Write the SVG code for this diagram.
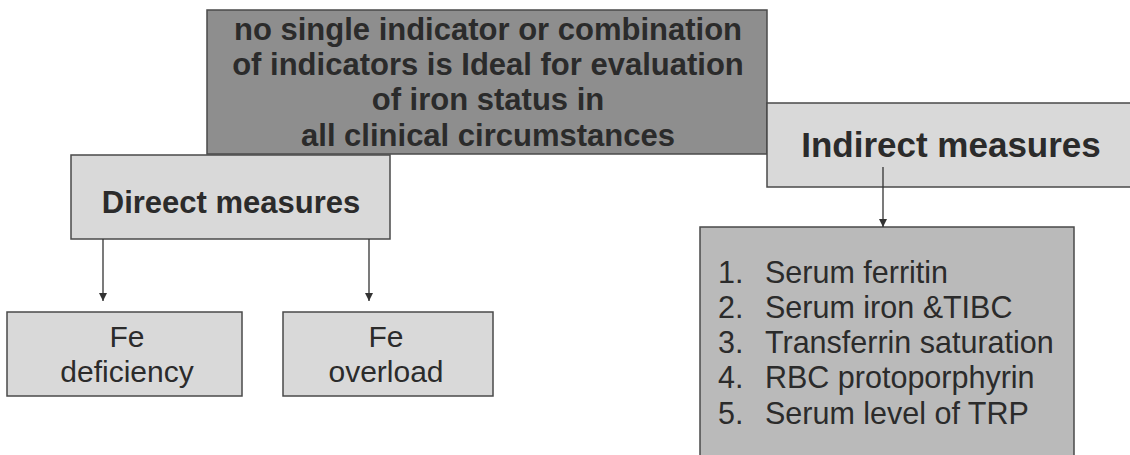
<svg xmlns="http://www.w3.org/2000/svg" width="1130" height="455" viewBox="0 0 1130 455">
<style>
.box{stroke:#4a4a4a;stroke-width:1.5}
.dark{fill:#8e8e8e}
.light{fill:#d9d9d9}
.mid{fill:#bababa}
text{font-family:"Liberation Sans",Arial,sans-serif;fill:#2b2b2b}
.b{font-weight:bold}
.c{text-anchor:middle}
.conn{stroke:#333;stroke-width:1.3;fill:none}
</style>
<defs>
<marker id="ah" viewBox="0 0 10 10" refX="10" refY="5" markerWidth="8" markerHeight="8" markerUnits="userSpaceOnUse" orient="auto">
<path d="M0,0 L10,5 L0,10 z" fill="#333"/>
</marker>
</defs>
<rect width="1130" height="455" fill="#ffffff"/>
<g id="top">
<rect class="box dark" x="207" y="10" width="560" height="144"/>
<text class="b c" x="488" y="40" font-size="31">no single indicator or combination</text>
<text class="b c" x="488" y="75" font-size="31">of indicators is Ideal for evaluation</text>
<text class="b c" x="488" y="110" font-size="31">of iron status in</text>
<text class="b c" x="488" y="146" font-size="31">all clinical circumstances</text>
</g>
<g id="direct">
<rect class="box light" x="71" y="155" width="319" height="84"/>
<text class="b c" x="231" y="213" font-size="31">Direect measures</text>
</g>
<g id="indirect">
<rect class="box light" x="767" y="103" width="370" height="84"/>
<text class="b c" x="951" y="157" font-size="35">Indirect measures</text>
</g>
<g id="deficiency">
<rect class="box light" x="7" y="312" width="235" height="84"/>
<text class="c" x="127" y="347" font-size="30">Fe</text>
<text class="c" x="127" y="382" font-size="30">deficiency</text>
</g>
<g id="overload">
<rect class="box light" x="283" y="312" width="210" height="84"/>
<text class="c" x="386" y="347" font-size="30">Fe</text>
<text class="c" x="386" y="382" font-size="30">overload</text>
</g>
<g id="list">
<rect class="box mid" x="700" y="227" width="374" height="240"/>
<g font-size="30.5">
<text x="718" y="283">1.</text><text x="765" y="283">Serum ferritin</text>
<text x="718" y="318">2.</text><text x="765" y="318">Serum iron &amp;TIBC</text>
<text x="718" y="353">3.</text><text x="765" y="353">Transferrin saturation</text>
<text x="718" y="388">4.</text><text x="765" y="388">RBC protoporphyrin</text>
<text x="718" y="424">5.</text><text x="765" y="424">Serum level of TRP</text>
</g>
</g>
<g id="connectors">
<line class="conn" x1="103" y1="239" x2="103" y2="301" marker-end="url(#ah)"/>
<line class="conn" x1="369" y1="239" x2="369" y2="301" marker-end="url(#ah)"/>
<line class="conn" x1="883" y1="167" x2="883" y2="227" marker-end="url(#ah)"/>
</g>
</svg>
